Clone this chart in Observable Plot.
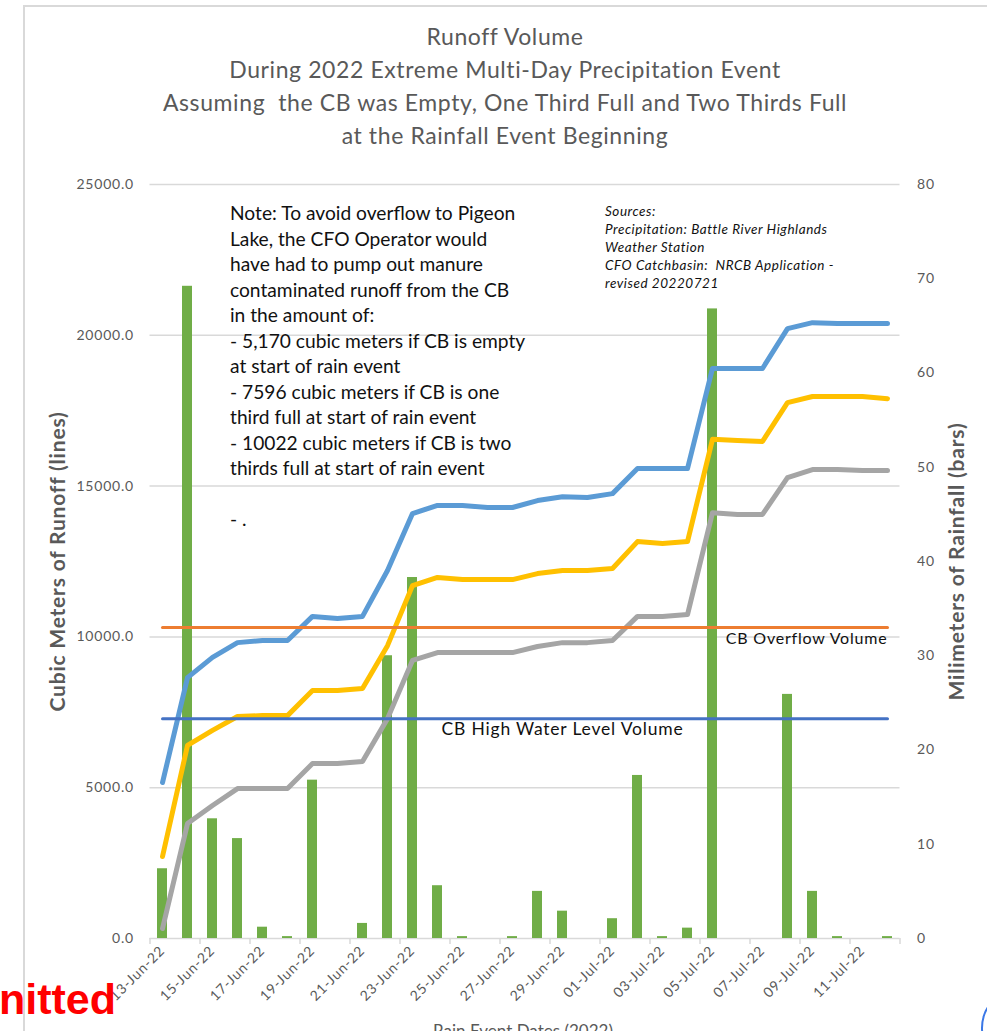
<!DOCTYPE html>
<html><head><meta charset="utf-8">
<script src="https://cdn.jsdelivr.net/npm/d3@7"></script>
<script src="https://cdn.jsdelivr.net/npm/@observablehq/plot@0.6"></script>
<style>
body{margin:0;background:#fff;}
#wrap{position:relative;width:987px;height:1031px;overflow:hidden;font-family:Lato,"Open Sans",sans-serif;background:#fff;}
#border{position:absolute;left:23px;top:5px;width:1000px;height:1100px;border:2.5px solid #D9D9D9;box-sizing:border-box;}
#title{position:absolute;top:20px;left:0;width:1010px;text-align:center;font-size:23px;letter-spacing:0.6px;line-height:33px;color:#595959;}
#chart{position:absolute;top:160px;left:0;}
#note{position:absolute;left:230px;top:200px;font-size:19.2px;line-height:25.5px;color:#111;white-space:nowrap;}
#sources{position:absolute;left:605px;top:202px;font-size:13.5px;letter-spacing:0.55px;line-height:18px;font-style:italic;color:#111;white-space:nowrap;}
#xtitle{position:absolute;left:0;width:1046px;text-align:center;top:1020px;font-size:17px;color:#595959;}
#stamp{position:absolute;left:-1px;top:975px;font-family:"Liberation Sans",Arial,sans-serif;font-weight:bold;font-size:43px;color:#FF0000;}
#ring{position:absolute;left:981px;top:996px;width:44px;height:60px;border:2px solid #3B78E7;border-radius:50%;}
</style></head><body>
<div id="wrap">
  <div id="border"></div>
  <div id="title"></div>
  <div id="chart"></div>
  <div id="note"></div>
  <div id="sources"></div>
  <div id="xtitle"></div>
  <div id="stamp"></div>
  <div id="ring"></div>
</div>
<script>
// ---- data ----
const dates = ["13-Jun-22","14-Jun-22","15-Jun-22","16-Jun-22","17-Jun-22","18-Jun-22","19-Jun-22","20-Jun-22","21-Jun-22","22-Jun-22",
  "23-Jun-22","24-Jun-22","25-Jun-22","26-Jun-22","27-Jun-22","28-Jun-22","29-Jun-22","30-Jun-22","01-Jul-22","02-Jul-22",
  "03-Jul-22","04-Jul-22","05-Jul-22","06-Jul-22","07-Jul-22","08-Jul-22","09-Jul-22","10-Jul-22","11-Jul-22","12-Jul-22"];
const rainMm = [7.4,69.2,12.7,10.6,1.2,0.2,16.8,0,1.6,30.0,38.3,5.6,0.2,0,0.2,5.0,2.9,0,2.1,17.3,0.2,1.1,66.8,0,0,25.9,5.0,0.2,0,0.2];
const runoffEmpty = [5170,8650,9320,9810,9880,9880,10680,10610,10680,12200,14090,14360,14360,14290,14290,14520,14650,14620,14750,15580,15580,15580,18900,18900,18900,20220,20420,20390,20390,20390];
const runoffOneThird = [2720,6400,6900,7360,7390,7390,8220,8220,8290,9710,11700,11970,11900,11900,11900,12100,12200,12200,12270,13160,13100,13160,16550,16510,16480,17770,17970,17970,17970,17900];
const runoffTwoThirds = [330,3810,4410,4970,4970,4970,5800,5800,5870,7290,9220,9480,9480,9480,9480,9680,9810,9810,9880,10680,10680,10740,14120,14060,14060,15280,15550,15550,15520,15520];
const overflowVolume = 10310;
const highWaterVolume = 7290;
const leftTicks = [0,5000,10000,15000,20000,25000];
const rightTicks = [0,10,20,30,40,50,60,70,80];
const leftMax = 25000, rightMax = 80;

const titleLines = ["Runoff Volume","During 2022 Extreme Multi-Day Precipitation Event","Assuming\u00a0 the CB was Empty, One Third Full and Two Thirds Full","at the Rainfall Event Beginning"];
const noteLines = ["Note: To avoid overflow to Pigeon","Lake, the CFO Operator would","have had to pump out manure","contaminated runoff from the CB","in the amount of:",
  "- 5,170 cubic meters if CB is empty","at start of rain event","- 7596 cubic meters if CB is one","third full at start of rain event",
  "- 10022 cubic meters if CB is two","thirds full at start of rain event","","- ."];
const sourceLines = ["Sources:","Precipitation: Battle River Highlands","Weather Station","CFO Catchbasin:\u00a0 NRCB Application -","revised 20220721"];
const leftTitle = "Cubic Meters of Runoff (lines)";
const rightTitle = "Milimeters of Rainfall (bars)";
const xTitle = "Rain Event Dates (2022)";
const overflowLabel = "CB Overflow Volume";
const highWaterLabel = "CB High Water Level Volume";
const stampText = "nitted";

// ---- build ----
document.getElementById("title").innerHTML = titleLines.join("<br>");
document.getElementById("note").innerHTML = noteLines.map(l => l || "&nbsp;").join("<br>");
document.getElementById("sources").innerHTML = sourceLines.join("<br>");
document.getElementById("xtitle").textContent = xTitle;
document.getElementById("stamp").textContent = stampText;

const k = leftMax / rightMax;
const rows = dates.map((d, i) => ({
  date: d, rain: rainMm[i] * k, empty: runoffEmpty[i], one: runoffOneThird[i], two: runoffTwoThirds[i],
  overflow: overflowVolume, high: highWaterVolume
}));
const tickRows = dates.filter((d, i) => i % 2 === 0);
const lineOpts = {x: "date", strokeWidth: 5, strokeLinecap: "round", strokeLinejoin: "round"};

const chart = Plot.plot({
  width: 987,
  height: 871,
  marginLeft: 149.5,
  marginRight: 87.5,
  marginTop: 24,
  marginBottom: 93,
  style: {fontFamily: "Lato, sans-serif", fontSize: "14px", color: "#595959", background: "transparent", letterSpacing: "0.8px"},
  x: {type: "band", domain: dates, paddingInner: 0.6, paddingOuter: 0.3},
  y: {domain: [0, leftMax]},
  marks: [
    Plot.gridY(leftTicks.filter(v => v > 0), {stroke: "#D9D9D9", strokeOpacity: 1, strokeWidth: 1.5}),
    Plot.ruleY([0], {stroke: "#D9D9D9", strokeWidth: 1.5}),
    Plot.ruleX(tickRows, {x: d => d, dx: -12.5, stroke: "#D9D9D9", strokeWidth: 1.5, insetTop: 754, insetBottom: -6}),
    Plot.ruleX([dates[dates.length - 1]], {x: d => d, dx: 12.5, stroke: "#D9D9D9", strokeWidth: 1.5, insetTop: 754, insetBottom: -6}),
    Plot.barY(rows, {x: "date", y: "rain", fill: "#70AD47"}),
    Plot.line(rows, {...lineOpts, y: "empty", stroke: "#5B9BD5"}),
    Plot.line(rows, {...lineOpts, y: "one", stroke: "#FFC000"}),
    Plot.line(rows, {...lineOpts, y: "two", stroke: "#A5A5A5"}),
    Plot.line(rows, {x: "date", y: "overflow", stroke: "#ED7D31", strokeWidth: 3}),
    Plot.line(rows, {x: "date", y: "high", stroke: "#4472C4", strokeWidth: 3}),
    Plot.text([{date: dates[29], v: overflowVolume, t: overflowLabel}], {x: "date", y: "v", text: "t", textAnchor: "end", dy: 11, fontSize: 16, fill: "#111", style: {letterSpacing: "0px"}}),
    Plot.text([{date: dates[16], v: highWaterVolume, t: highWaterLabel}], {x: "date", y: "v", text: "t", textAnchor: "middle", dy: 11, fontSize: 17.5, fill: "#111"}),
    Plot.axisY({anchor: "left", ticks: leftTicks, tickFormat: d => d.toFixed(1), tickSize: 0, tickPadding: 16, label: null}),
    Plot.axisY({anchor: "right", ticks: rightTicks.map(v => v * k), tickFormat: d => String(Math.round(d / k)), tickSize: 0, tickPadding: 17, label: null}),
    Plot.axisX({ticks: tickRows, tickRotate: -45, tickSize: 0, tickPadding: 10, label: null}),
    Plot.text([leftTitle], {text: d => d, frameAnchor: "left", textAnchor: "middle", rotate: -90, dx: -92, fontSize: 21, fontWeight: "bold", fill: "#595959", style: {letterSpacing: "-0.2px"}}),
    Plot.text([rightTitle], {text: d => d, frameAnchor: "right", textAnchor: "middle", rotate: -90, dx: 57.5, fontSize: 21, fontWeight: "bold", fill: "#595959", style: {letterSpacing: "-0.2px"}})
  ]
});
document.getElementById("chart").appendChild(chart);
</script>
</body></html>
